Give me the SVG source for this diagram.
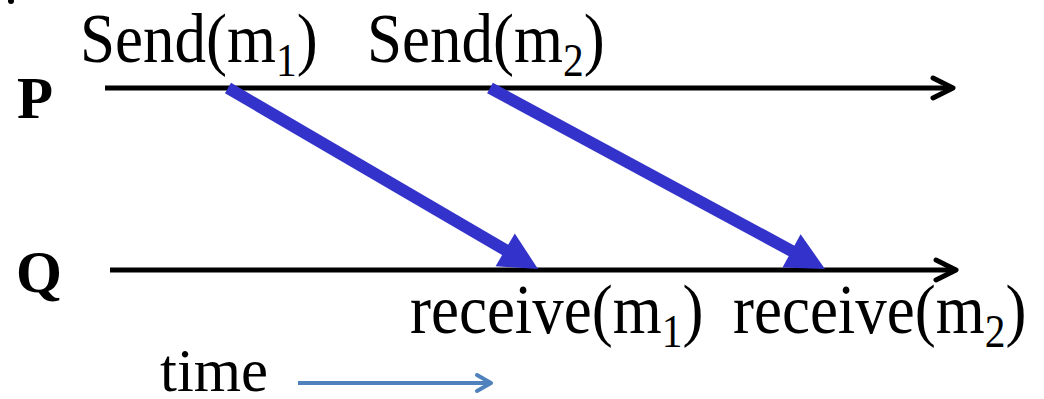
<svg xmlns="http://www.w3.org/2000/svg" width="1044" height="399" viewBox="0 0 1044 399">
  <style>
    .lbl { font-family: "Liberation Serif", "Times New Roman", serif; font-size: 70px; fill: #000; }
    .sub { font-size: 46px; }
    .proc { font-family: "Liberation Serif", "Times New Roman", serif; font-size: 59px; font-weight: bold; fill: #000; }
    .timeline { stroke: #000; stroke-width: 5; fill: none; }
    .msg { stroke: #3333CC; stroke-width: 12; stroke-linecap: butt; fill: none; }
    .msghead { fill: #3333CC; }
    .time { stroke: #4F81BD; stroke-width: 4; fill: none; }
  </style>
  <defs>
    <marker id="chev" markerUnits="userSpaceOnUse" viewBox="-24 -13 27 26" refX="0" refY="0" markerWidth="27" markerHeight="26" orient="auto">
      <path d="M-20,-10 L0,0 L-20,10" fill="none" stroke="#000" stroke-width="5" stroke-linecap="round" stroke-linejoin="round"/>
    </marker>
    <marker id="chevBlue" markerUnits="userSpaceOnUse" viewBox="-18 -11 21 22" refX="0" refY="0" markerWidth="21" markerHeight="22" orient="auto">
      <path d="M-14,-8 L0,0 L-14,8" fill="none" stroke="#4F81BD" stroke-width="4" stroke-linecap="round" stroke-linejoin="round"/>
    </marker>
  </defs>
  <rect width="1044" height="399" fill="#fff"/>
  <ellipse cx="11" cy="1" rx="3" ry="3" fill="#000"/>

  <g id="process-P">
    <text class="proc" x="17" y="118">P</text>
    <line class="timeline" x1="105" y1="88" x2="953" y2="88" marker-end="url(#chev)"/>
  </g>
  <g id="process-Q">
    <text class="proc" x="16" y="292">Q</text>
    <line class="timeline" x1="110" y1="270" x2="956" y2="270" marker-end="url(#chev)"/>
  </g>

  <g id="labels">
    <text class="lbl" transform="translate(80,62) scale(0.9,1)">Send(m<tspan class="sub" dy="14">1</tspan><tspan dy="-14">)</tspan></text>
    <text class="lbl" transform="translate(367,62) scale(0.9,1)">Send(m<tspan class="sub" dy="14">2</tspan><tspan dy="-14">)</tspan></text>
    <text class="lbl" transform="translate(410,333) scale(0.9,1)">receive(m<tspan class="sub" dy="14">1</tspan><tspan dy="-14">)</tspan></text>
    <text class="lbl" transform="translate(733,333) scale(0.9,1)">receive(m<tspan class="sub" dy="14">2</tspan><tspan dy="-14">)</tspan></text>
    <text class="lbl" transform="translate(160,391) scale(0.98,1)" style="font-size:62px">time</text>
  </g>

  <g id="connectors">
    <line class="msg" x1="228" y1="88" x2="512.1" y2="253.9"/>
    <polygon class="msghead" points="538,269 495.6,266.2 514.8,233.4"/>
    <line class="msg" x1="490" y1="88" x2="798.6" y2="254.7"/>
    <polygon class="msghead" points="825,269 782.5,267.6 800.6,234.2"/>
    <line class="time" x1="298" y1="383" x2="491" y2="383" marker-end="url(#chevBlue)"/>
  </g>
</svg>
